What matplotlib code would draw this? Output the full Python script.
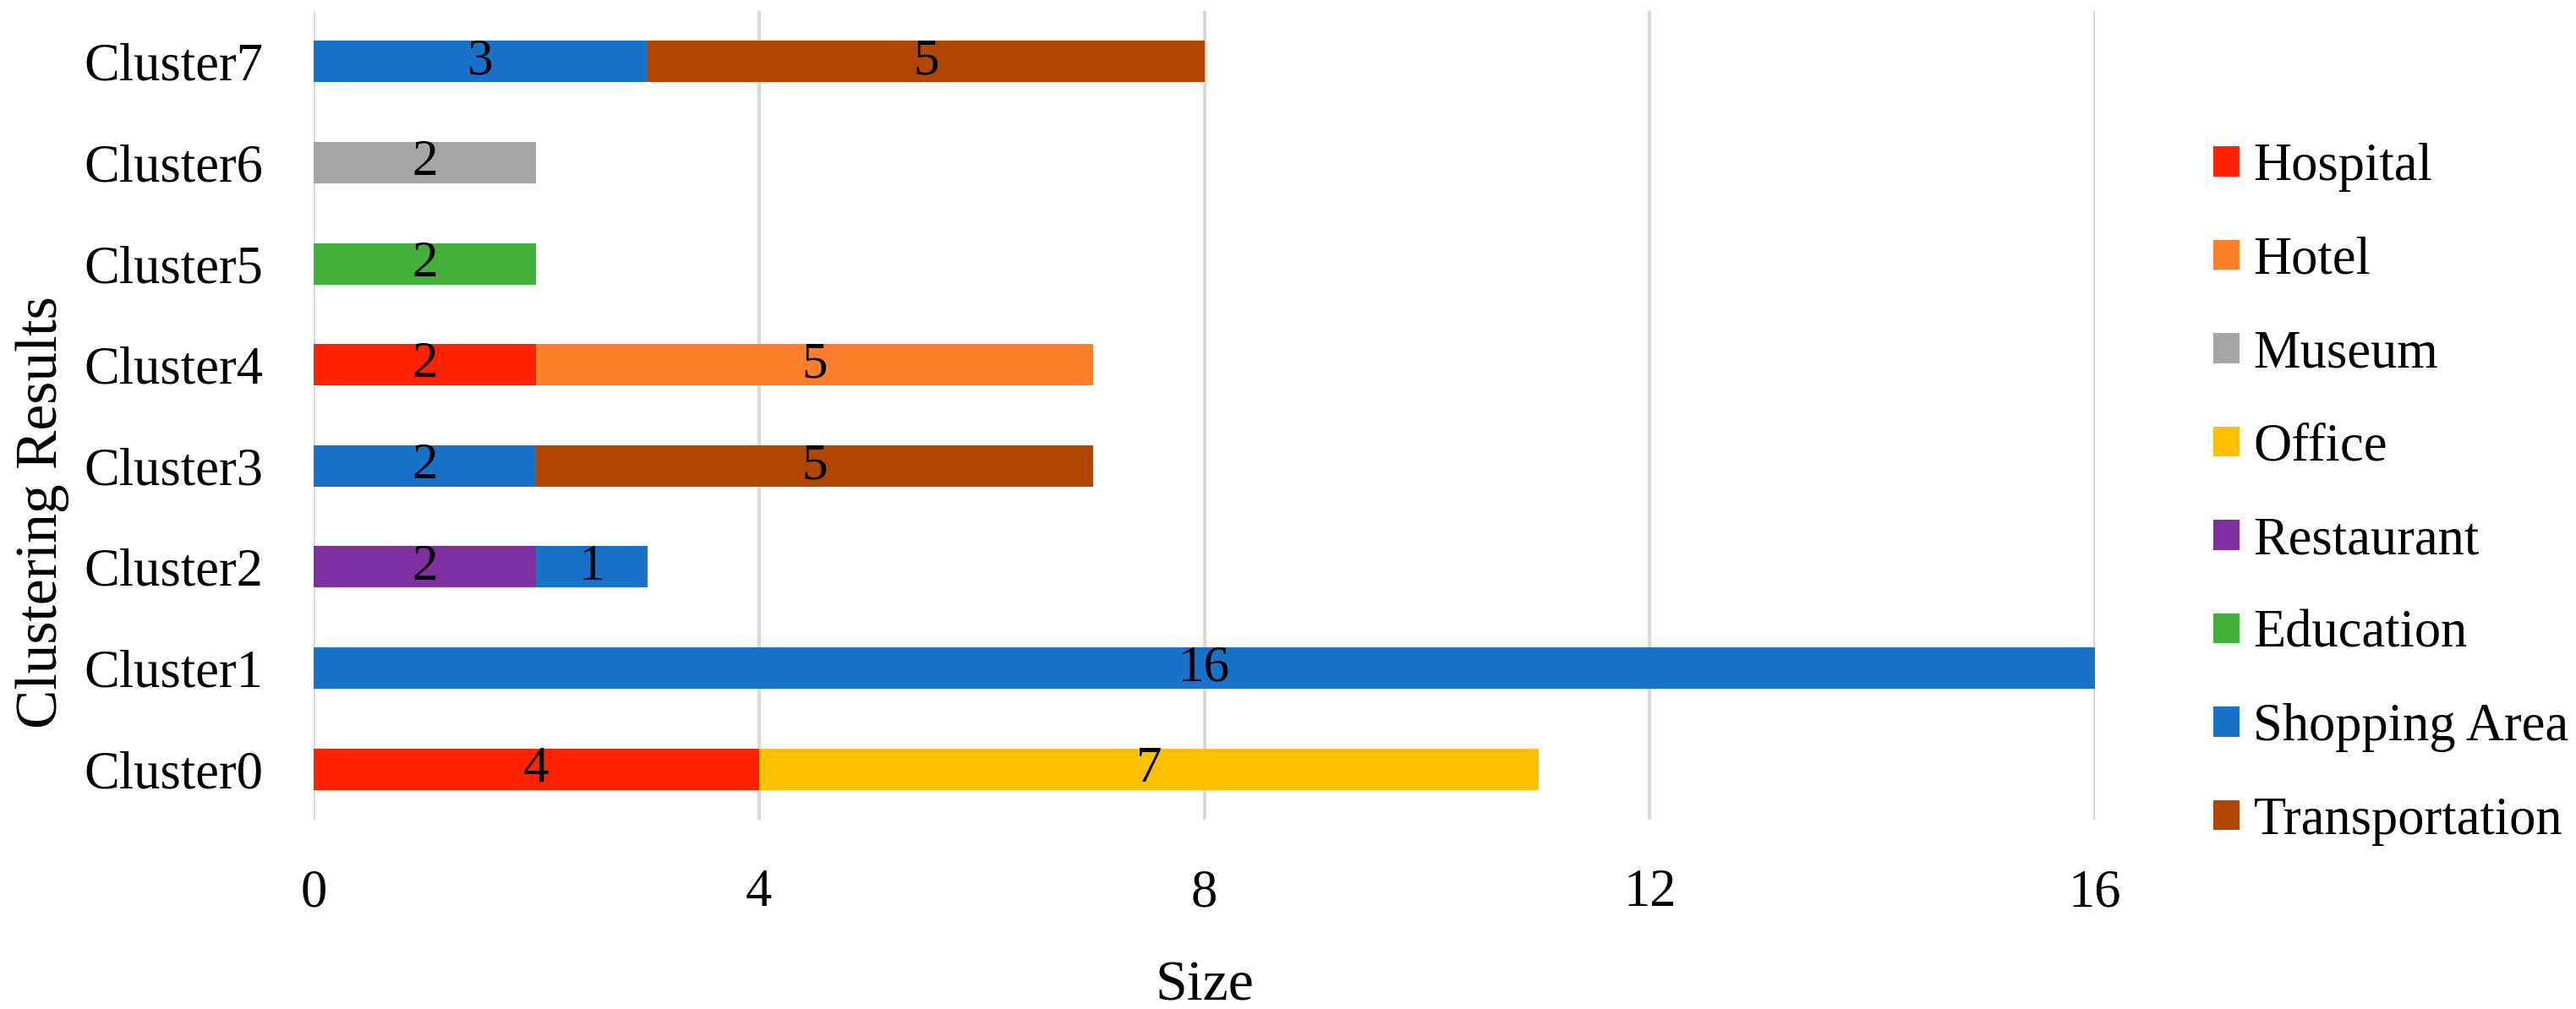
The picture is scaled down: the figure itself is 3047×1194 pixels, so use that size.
import matplotlib
matplotlib.use("Agg")
import matplotlib.pyplot as plt
from matplotlib.patches import Patch

clusters = ["Cluster0", "Cluster1", "Cluster2", "Cluster3",
            "Cluster4", "Cluster5", "Cluster6", "Cluster7"]
categories = ["Hospital", "Hotel", "Museum", "Office", "Restaurant",
              "Education", "Shopping Area", "Transportation"]
colors = ["#FF2200", "#FD7E2B", "#A5A5A5", "#FFC000", "#7F30A0",
          "#43B03A", "#1772C8", "#B14600"]

# values per category, one per cluster (0 = not present)
hospital = [4, 0, 0, 0, 2, 0, 0, 0]
hotel = [0, 0, 0, 0, 5, 0, 0, 0]
museum = [0, 0, 0, 0, 0, 0, 2, 0]
office = [7, 0, 0, 0, 0, 0, 0, 0]
restaurant = [0, 0, 2, 0, 0, 0, 0, 0]
education = [0, 0, 0, 0, 0, 2, 0, 0]
shopping = [0, 16, 1, 2, 0, 0, 0, 3]
transportation = [0, 0, 0, 5, 0, 0, 0, 5]
series = [hospital, hotel, museum, office, restaurant,
          education, shopping, transportation]

plt.rcParams['font.family'] = ['Liberation Serif', 'DejaVu Serif']

fig = plt.figure(figsize=(30.47, 11.94), dpi=100)
ax = fig.add_axes([0.1218, 0.1876, 0.6915, 0.8015])

ypos = list(range(len(clusters)))
left = [0] * len(clusters)
for vals, col in zip(series, colors):
    bars = ax.barh(ypos, vals, left=left, height=0.41, color=col, zorder=3)
    for b, v in zip(bars, vals):
        if v > 0:
            ax.text(b.get_x() + b.get_width() / 2, b.get_y() + b.get_height() / 2,
                    str(v), ha='center', va='center', fontsize=44, zorder=4)
    left = [l + v for l, v in zip(left, vals)]

ax.set_xlim(0, 16)
ax.set_ylim(-0.5, 7.5)
ax.set_xticks([0, 4, 8, 12, 16])
ax.set_yticks(ypos)
ax.set_yticklabels(clusters)
ax.tick_params(axis='both', length=0, labelsize=45)
ax.tick_params(axis='x', pad=42)
ax.tick_params(axis='y', pad=43)
ax.grid(axis='x', color='#D9D9D9', linewidth=3, zorder=0)
for s in ax.spines.values():
    s.set_visible(False)

ax.set_xlabel("Size", fontsize=49, labelpad=36)
ax.set_ylabel("Clustering Results", fontsize=50)
ax.yaxis.set_label_coords(-0.137, 0.38)

handles = [Patch(facecolor=c, edgecolor='none') for c in colors]
fig.legend(handles, categories, loc='center left', bbox_to_anchor=(0.8592, 0.5101),
           frameon=False, fontsize=45, handlelength=0.5, handleheight=0.5,
           handletextpad=0.26, labelspacing=0.84, borderpad=0, borderaxespad=0)

fig.savefig("out.png", dpi=100)
